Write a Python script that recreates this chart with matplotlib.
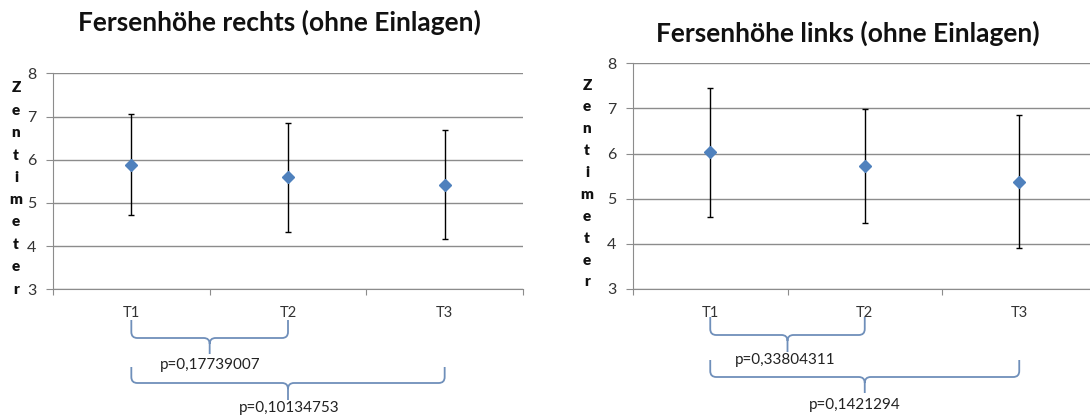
import matplotlib
matplotlib.use('Agg')
import matplotlib.pyplot as plt
from matplotlib.path import Path
from matplotlib.patches import PathPatch

# Daten
zeitpunkte = ['T1', 'T2', 'T3']
rechts_mittel = [5.88, 5.59, 5.42]
rechts_fehler = [1.17, 1.26, 1.26]
links_mittel = [6.03, 5.73, 5.38]
links_fehler = [1.43, 1.26, 1.48]
titel_rechts = 'Fersenhöhe rechts (ohne Einlagen)'
titel_links = 'Fersenhöhe links (ohne Einlagen)'
p_rechts = ['p=0,17739007', 'p=0,10134753']
p_links = ['p=0,33804311', 'p=0,1421294']

W, H = 1090, 418
plt.rcParams['font.family'] = ['Lato', 'DejaVu Sans']

fig = plt.figure(figsize=(W / 100, H / 100), dpi=100)


def box(x0, y_top, x1, y_bot):
    return [x0 / W, 1 - y_bot / H, (x1 - x0) / W, (y_bot - y_top) / H]


def draw_panel(ax, mittel, fehler):
    x = list(range(len(zeitpunkte)))
    ax.errorbar(x, mittel, yerr=fehler, fmt='D', color='#4F81BD', markersize=6.5,
                ecolor='black', elinewidth=1, capsize=2.5, capthick=1, zorder=3)
    ax.set_xlim(-0.5, len(zeitpunkte) - 0.5)
    ax.set_ylim(3, 8)
    ax.set_yticks(range(3, 9))
    ax.yaxis.grid(True, color='#8C8C8C', linewidth=1)
    ax.set_axisbelow(True)
    ax.set_xticks([i + 0.5 for i in range(-1, len(zeitpunkte))])
    ax.set_xticklabels([])
    ax.set_xticks(x, minor=True)
    ax.set_xticklabels(zeitpunkte, minor=True)
    ax.tick_params(axis='x', which='major', length=4, color='#8C8C8C')
    ax.tick_params(axis='x', which='minor', length=0, pad=12, labelsize=10.5,
                   labelcolor='#333333')
    ax.tick_params(axis='y', length=5, color='#8C8C8C', labelsize=11.5,
                   labelcolor='#333333', pad=7)
    for s in ['top', 'right']:
        ax.spines[s].set_visible(False)
    for s in ['left', 'bottom']:
        ax.spines[s].set_color('#8C8C8C')


def brace(ax, xa, xb, xm, y_top, y_bot, y_tip, r=6):
    # x in Datenkoordinaten -> Pixel
    def px(xd):
        return ax.transData.transform((xd, 3))[0]
    a, b, m = px(xa), px(xb), px(xm)
    pts = [(a, y_top), (a, y_bot - r), (a, y_bot), (a + r, y_bot),
           (m - r, y_bot), (m, y_bot), (m, y_bot + r), (m, y_tip),
           (m, y_bot + r), (m, y_bot), (m + r, y_bot),
           (b - r, y_bot), (b, y_bot), (b, y_bot - r), (b, y_top)]
    codes = [Path.MOVETO, Path.LINETO, Path.CURVE3, Path.CURVE3,
             Path.LINETO, Path.CURVE3, Path.CURVE3, Path.LINETO,
             Path.MOVETO, Path.CURVE3, Path.CURVE3,
             Path.LINETO, Path.CURVE3, Path.CURVE3, Path.LINETO]
    verts = [(x / W, 1 - y / H) for x, y in pts]
    fig.patches.append(PathPatch(Path(verts, codes), transform=fig.transFigure,
                                 fill=False, edgecolor='#6F8FBA', linewidth=1.3))


def stacked_label(x, y0, y1, text):
    n = len(text)
    for i, ch in enumerate(text):
        y = y0 + (y1 - y0) * i / (n - 1)
        fig.text(x / W, 1 - y / H, ch, ha='center', va='center',
                 fontsize=11, fontweight='heavy', color='#111111')


# Links: rechter Fuss
ax1 = fig.add_axes(box(53, 73.3, 523, 289.3))
draw_panel(ax1, rechts_mittel, rechts_fehler)
fig.text(279 / W, 1 - 22 / H, titel_rechts, ha='center', va='center',
         fontsize=19, fontweight='bold', color='#111111')
stacked_label(16, 88, 289, 'Zentimeter')

# Rechts: linker Fuss
ax2 = fig.add_axes(box(633, 63.3, 633 + 3 * 154.5, 289))
draw_panel(ax2, links_mittel, links_fehler)
fig.text(848 / W, 1 - 33 / H, titel_links, ha='center', va='center',
         fontsize=19, fontweight='bold', color='#111111')
stacked_label(587, 85, 282, 'Zentimeter')

# Klammern mit p-Werten
brace(ax1, 0, 1, 0.5, 320, 338, 354)
fig.text(210 / W, 1 - 365 / H, p_rechts[0], ha='center', va='center',
         fontsize=11, color='#222222')
brace(ax1, 0, 2, 1, 367, 383, 400)
fig.text(289 / W, 1 - 408 / H, p_rechts[1], ha='center', va='center',
         fontsize=11, color='#222222')

brace(ax2, 0, 1, 0.5, 317, 335, 352)
fig.text(785 / W, 1 - 360 / H, p_links[0], ha='center', va='center',
         fontsize=11, color='#222222')
brace(ax2, 0, 2, 1, 360, 377, 393)
fig.text(855 / W, 1 - 405 / H, p_links[1], ha='center', va='center',
         fontsize=11, color='#222222')

fig.savefig('out.png', dpi=100)
